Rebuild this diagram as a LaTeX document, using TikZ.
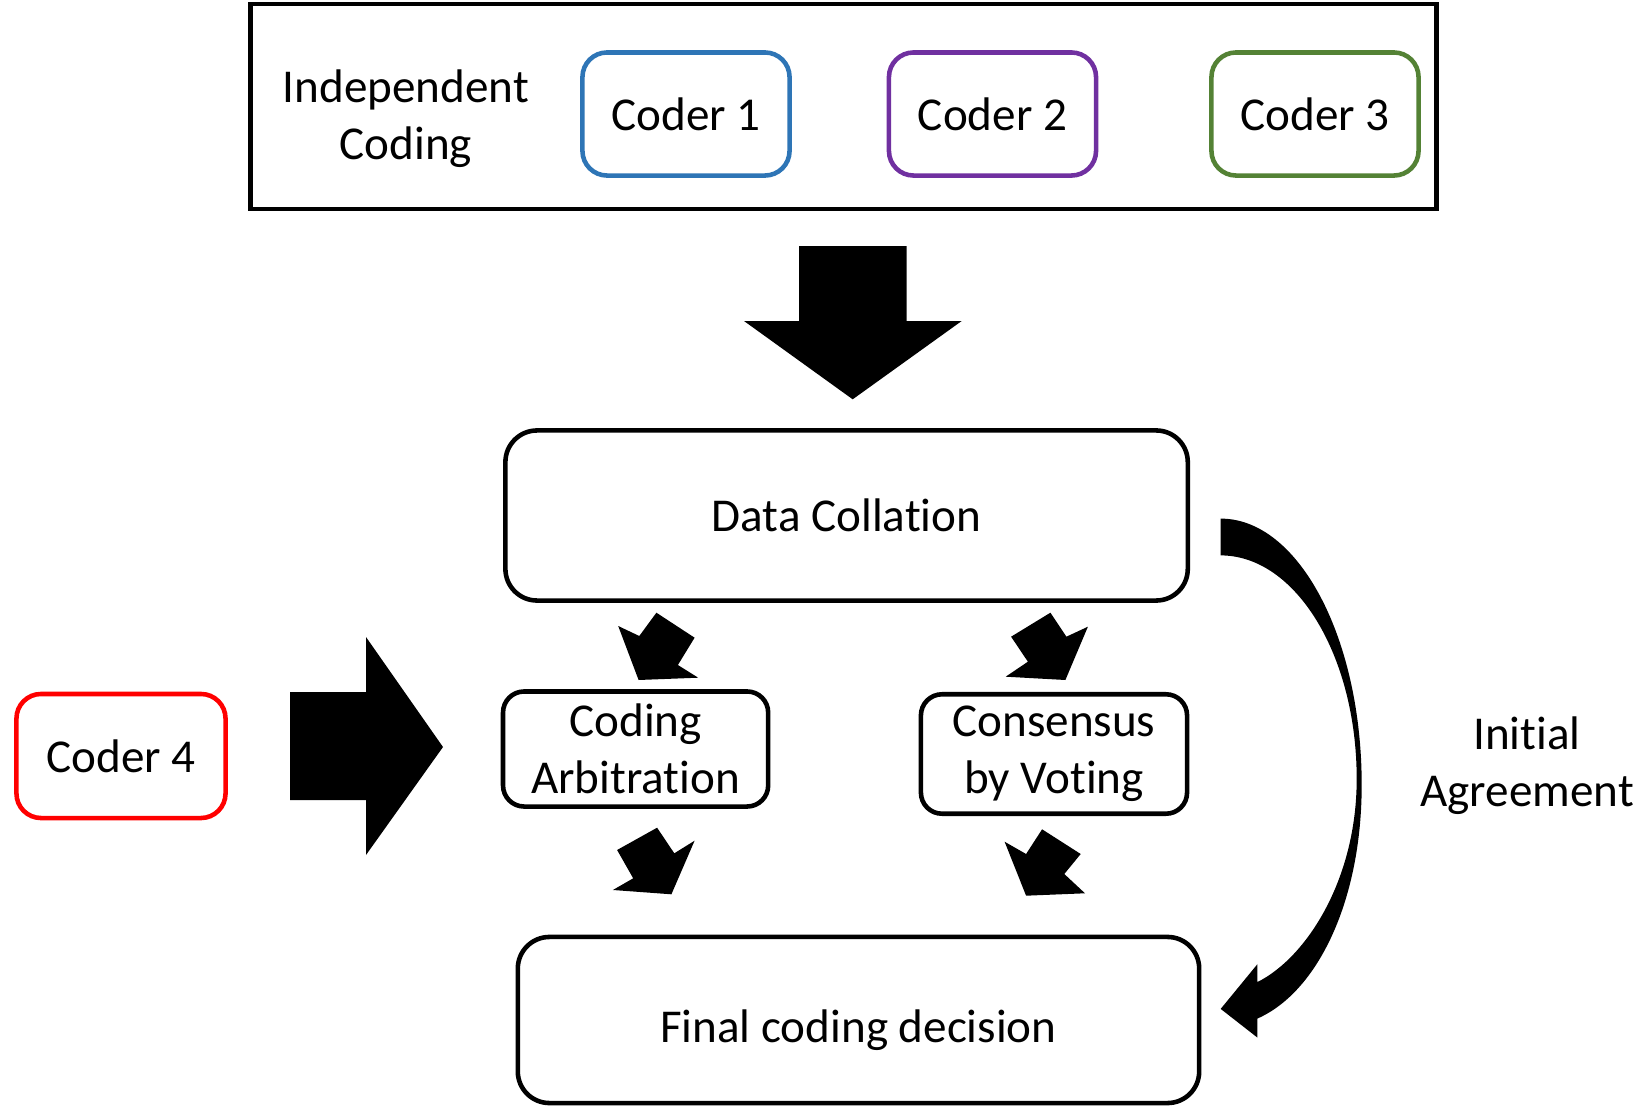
\documentclass[tikz,border=0pt]{standalone}
\usepackage{fontspec}
\setmainfont{Carlito}[Ligatures=NoCommon]

\definecolor{coderblue}{RGB}{46,117,182}
\definecolor{coderpurple}{RGB}{112,48,160}
\definecolor{codergreen}{RGB}{84,130,53}
\definecolor{coderred}{RGB}{255,0,0}

\begin{document}
\begin{tikzpicture}[x=0.01cm,y=-0.01cm,
    every node/.style={font=\fontsize{13.4}{16.3}\selectfont,align=center}]

      \useasboundingbox (0,0) rectangle (1638,1106);

      \node[draw,line width=1.3pt,minimum width=11.85cm,minimum height=2.05cm] (frame) at (843.5,106.5) {};
      \node (indep) at (406,119) {Independent\\Coding};
      \node (agreement) at (1527,766) {Initial\\Agreement};

      \begin{scope}[every node/.append style={draw,rounded corners=7pt,line width=1.3pt,
          minimum width=2.07cm,minimum height=1.23cm}]
        \node[coderblue]   (coder1) at (686,114)  {\textcolor{black}{Coder 1}};
        \node[coderpurple] (coder2) at (992.5,114) {\textcolor{black}{Coder 2}};
        \node[codergreen]  (coder3) at (1315,114) {\textcolor{black}{Coder 3}};
        \node[coderred,minimum width=2.09cm,minimum height=1.24cm] (coder4) at (121,756) {\textcolor{black}{Coder 4}};
      \end{scope}

      \begin{scope}[every node/.append style={draw,line width=1.3pt}]
        \node[rounded corners=9pt,minimum width=6.82cm,minimum height=1.70cm] (collation) at (846.6,515.5) {Data Collation};
        \node[rounded corners=6pt,minimum width=2.65cm,minimum height=1.15cm] (arbitration) at (635.6,749) {Coding\\Arbitration};
        \node[rounded corners=6pt,minimum width=2.66cm,minimum height=1.15cm] (voting) at (1054,754) {Consensus\\by Voting};
        \node[rounded corners=9pt,minimum width=6.81cm,minimum height=1.66cm,text height=15pt] (final) at (858.5,1020) {Final coding decision};
      \end{scope}

      % block arrows
      \fill (799,246) -- (906.7,246) -- (906.7,321) -- (961.7,321) -- (852.7,399.3)
        -- (744,321) -- (799,321) -- cycle;
      \fill (290,692) -- (366,692) -- (366,637) -- (443,747) -- (366,855)
        -- (366,800) -- (290,800) -- cycle;

      \fill (656.4,612.7) -- (694.6,637.7) -- (677.9,665) -- (698.2,677.7)
        -- (638.6,680) -- (618.2,626) -- (639.3,636) -- cycle;
      \fill (1050.4,612.7) -- (1066.4,636.7) -- (1087.9,626.7) -- (1065.4,680)
        -- (1005.7,676.7) -- (1027.9,661.7) -- (1011.1,636.7) -- cycle;
      \fill (617.1,850) -- (657.1,827.7) -- (674.3,853.3) -- (694.6,840.7)
        -- (671.4,894.3) -- (612.9,890) -- (633.2,878.3) -- cycle;
      \fill (1042.1,829.3) -- (1080.7,854) -- (1064.3,874) -- (1085,893.3)
        -- (1026.1,895.7) -- (1004.6,841.7) -- (1026.1,854) -- cycle;

      % curved arrow
      \fill (1220.7,518.6) .. controls (1298.6,518.6) and (1361.7,638) .. (1361.7,785)
        .. controls (1361.7,900) and (1318,992) .. (1257.3,1018.6)
        -- (1257.3,1037.5) -- (1220.7,1008.9) -- (1257.3,964.3) -- (1257.3,982.1)
        .. controls (1306,958) and (1356.7,880) .. (1356.7,779)
        .. controls (1356.7,655.6) and (1295.8,555.4) .. (1220.7,555.4) -- cycle;

    \end{tikzpicture}
\end{document}
